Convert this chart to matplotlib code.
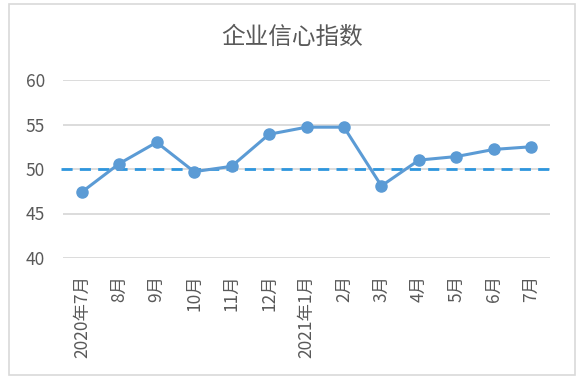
import matplotlib
matplotlib.use("Agg")
import matplotlib.pyplot as plt
from matplotlib.patches import Rectangle

plt.rcParams['font.family'] = ['Noto Sans CJK SC', 'DejaVu Sans']

# ===============================
# Data
# ===============================
months = ["2020年7月", "8月", "9月", "10月", "11月", "12月", "2021年1月",
          "2月", "3月", "4月", "5月", "6月", "7月"]
confidence = [47.4, 50.6, 53.0, 49.7, 50.3, 53.9, 54.7, 54.7, 48.1, 51.0, 51.4, 52.2, 52.5]
threshold = 50
y_ticks = [40, 45, 50, 55, 60]

# ===============================
# Figure
# ===============================
fig = plt.figure(figsize=(5.84, 3.84), dpi=100)
fig.patches.append(Rectangle((9 / 584, 1 - 375 / 384), 566 / 584, 371 / 384,
                             transform=fig.transFigure, fill=False,
                             edgecolor="#d9d9d9", linewidth=1.2))

ax = fig.add_axes([63 / 584, 1 - 258 / 384, 487 / 584, 178 / 384])

x = list(range(len(months)))
ax.plot(x, confidence, color="#5B9BD5", linewidth=2.2, marker="o",
        markersize=8, zorder=4)
ax.axhline(threshold, xmin=-0.005, xmax=1.012, color="#2E96DE", linewidth=2.0,
           dashes=(4, 2.6), clip_on=False, zorder=3)

ax.set_xlim(-0.5, len(months) - 0.5)
ax.set_ylim(40, 60)
ax.set_yticks(y_ticks)
ax.grid(axis="y", color="#d9d9d9", linewidth=1.3)
ax.set_axisbelow(True)
for s in ax.spines.values():
    s.set_visible(False)

ax.set_xticks(x)
ax.set_xticklabels(months, rotation=90, fontsize=12.5, color="#595959")
ax.tick_params(axis="y", labelsize=12.5, labelcolor="#595959", length=0, pad=13)
ax.tick_params(axis="x", length=0, pad=12)

fig.text(0.5, 1 - 37 / 384, "企业信心指数", ha="center", va="center",
         fontsize=17, color="#595959")

fig.savefig("out.png", dpi=100)
